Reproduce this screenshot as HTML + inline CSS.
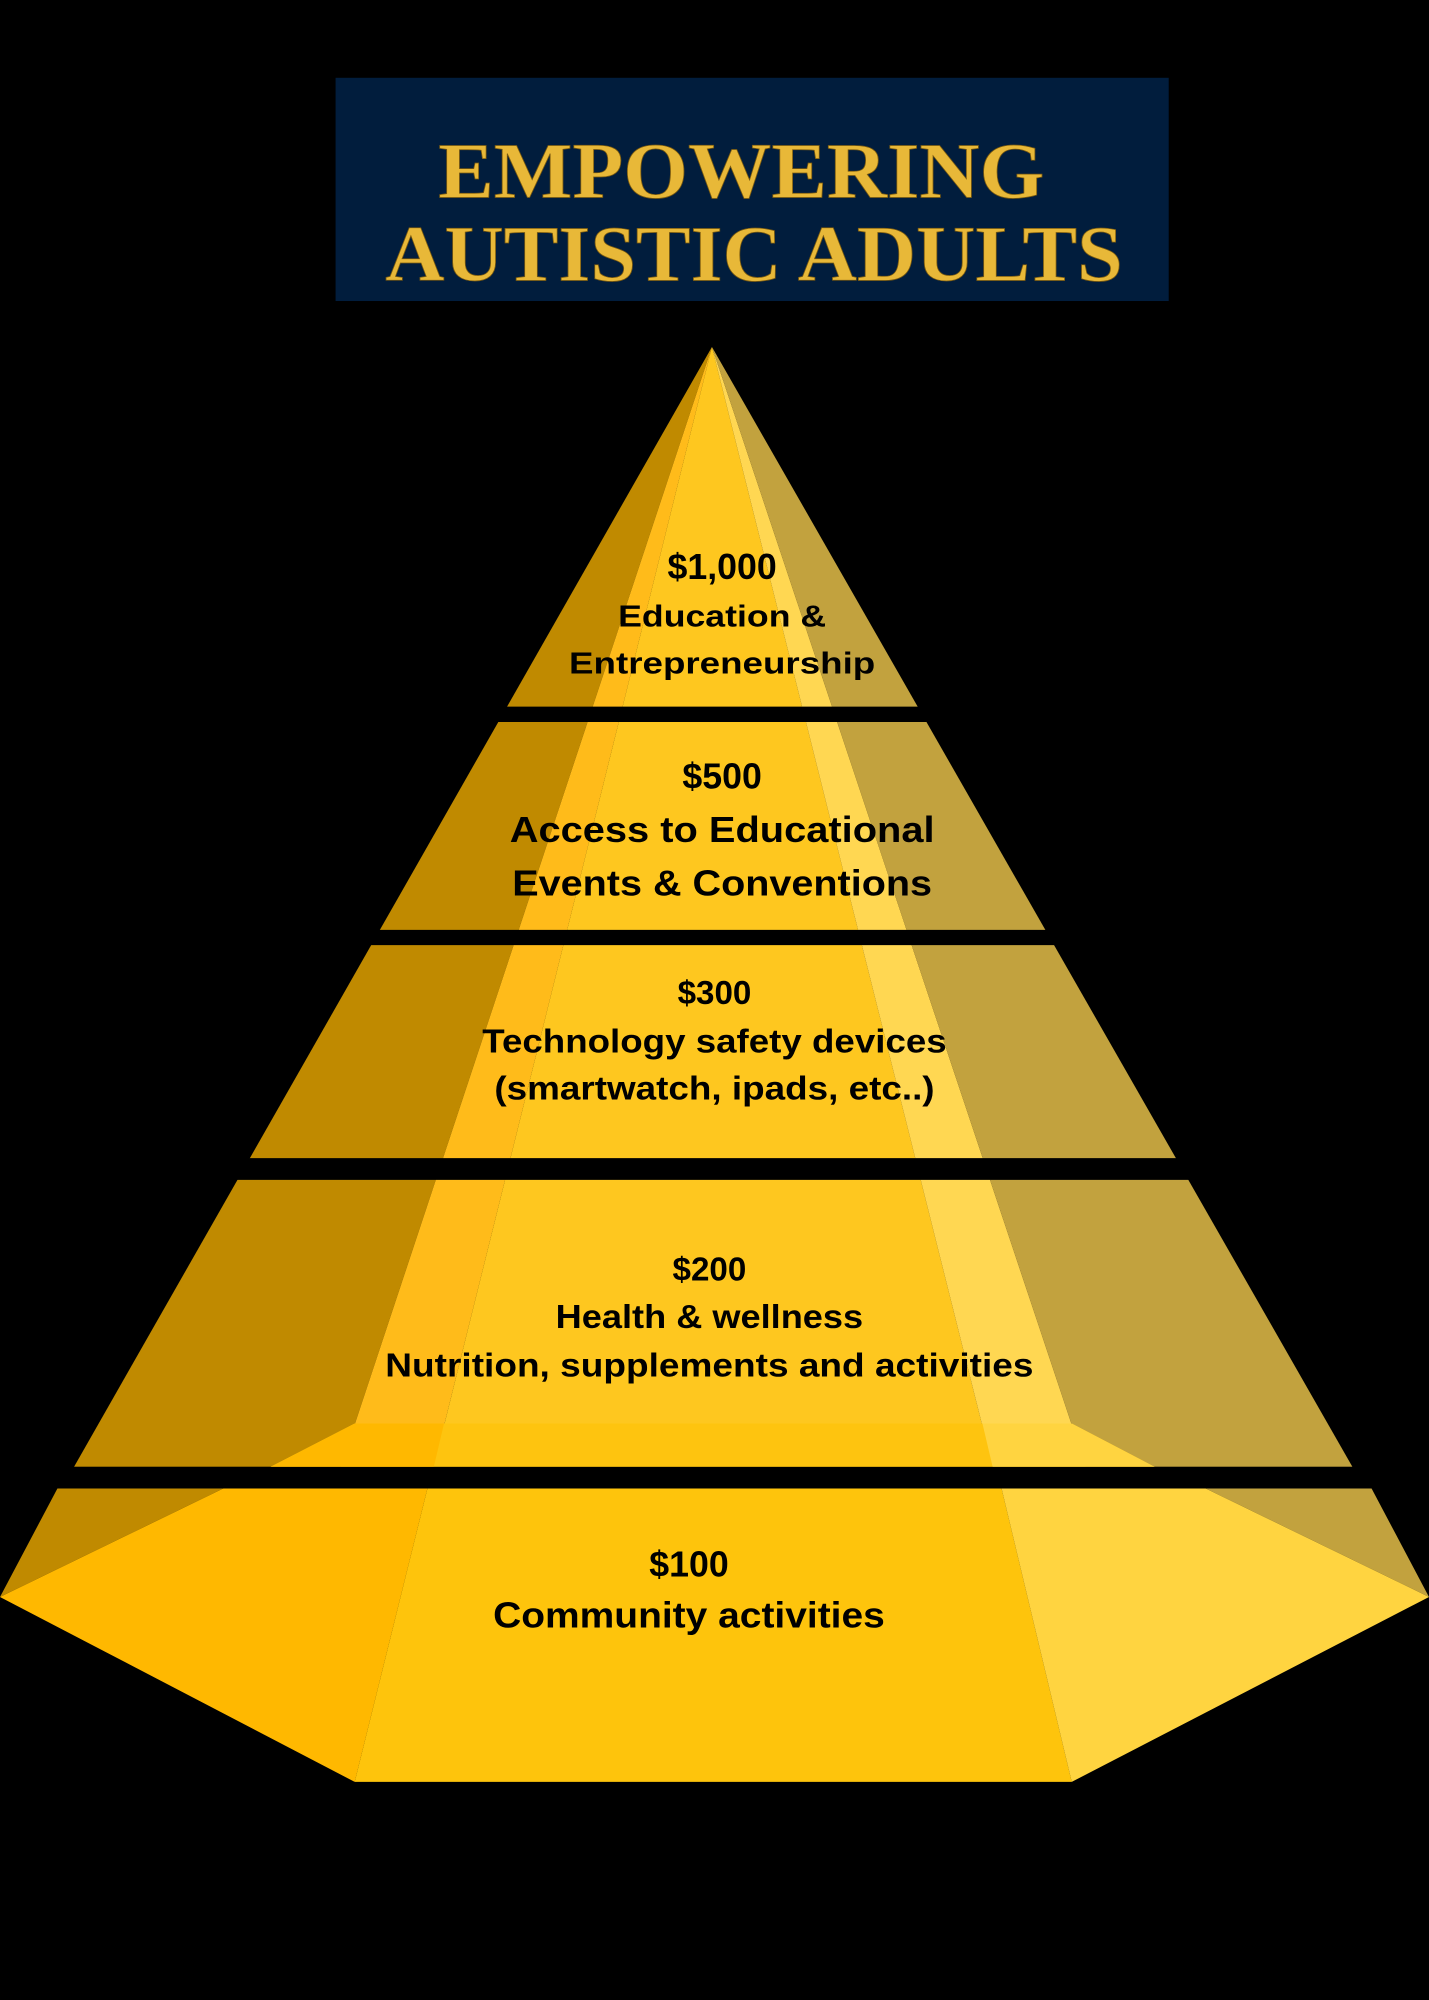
<!DOCTYPE html>
<html><head><meta charset="utf-8"><style>html,body{margin:0;padding:0;background:#000}svg{display:block}</style></head>
<body>
<svg width="1429" height="2000" viewBox="0 0 1120 1568" preserveAspectRatio="none" xmlns="http://www.w3.org/2000/svg">
<rect width="1120" height="1568" fill="#000"/>
<rect x="263" y="61" width="653" height="175" fill="#011d3d"/>
<g font-family="Liberation Serif, serif" font-weight="bold" fill="#e8b838" stroke="#7a5a10" stroke-width="0.6" text-anchor="middle">
<text x="581" y="155" font-size="62" textLength="475" lengthAdjust="spacingAndGlyphs">EMPOWERING</text>
<text x="591" y="220" font-size="62" textLength="578" lengthAdjust="spacingAndGlyphs">AUTISTIC ADULTS</text>
</g>
<defs>
<clipPath id="tiers">
<rect x="0" y="272" width="1120" height="282"/>
<rect x="0" y="566" width="1120" height="163"/>
<rect x="0" y="741" width="1120" height="167"/>
<rect x="0" y="925" width="1120" height="225"/>
</clipPath>
</defs>
<g clip-path="url(#tiers)">
<polygon points="558,272 58,1150 267,1150" fill="#c08a00"/>
<polygon points="558,272 267,1150 340,1150" fill="#ffbb1a"/>
<polygon points="558,272 340,1150 778,1150" fill="#fec71f"/>
<polygon points="558,272 778,1150 851,1150" fill="#ffd752"/>
<polygon points="558,272 851,1150 1060,1150" fill="#c2a23e"/>
<polygon points="278,1116 840,1116 905,1150 212,1150" fill="#fec40f"/>
<polygon points="278,1116 348,1116 340,1150 212,1150" fill="#ffb800"/>
<polygon points="770,1116 840,1116 905,1150 778,1150" fill="#ffd440"/>
</g>
<polygon points="45,1167 175,1167 0,1252" fill="#c08a00"/>
<polygon points="945,1167 1075,1167 1120,1252" fill="#c2a23e"/>
<polygon points="0,1252 175,1167 335,1167 278,1397" fill="#ffb800"/>
<polygon points="335,1167 785,1167 840,1397 278,1397" fill="#fec40c"/>
<polygon points="785,1167 945,1167 1120,1252 840,1397" fill="#ffd440"/>
<g font-family="Liberation Sans, sans-serif" font-weight="bold" fill="#000" text-anchor="middle">
<text x="566" y="454" font-size="28">$1,000</text>
<text x="566" y="491" font-size="24" textLength="163" lengthAdjust="spacingAndGlyphs">Education &amp;</text>
<text x="566" y="528" font-size="24" textLength="240" lengthAdjust="spacingAndGlyphs">Entrepreneurship</text>
<text x="566" y="618" font-size="28">$500</text>
<text x="566" y="660" font-size="28" textLength="333" lengthAdjust="spacingAndGlyphs">Access to Educational</text>
<text x="566" y="702" font-size="28" textLength="329" lengthAdjust="spacingAndGlyphs">Events &amp; Conventions</text>
<text x="560" y="787" font-size="26">$300</text>
<text x="560" y="825" font-size="26" textLength="364" lengthAdjust="spacingAndGlyphs">Technology safety devices</text>
<text x="560" y="862" font-size="26" textLength="345" lengthAdjust="spacingAndGlyphs">(smartwatch, ipads, etc..)</text>
<text x="556" y="1004" font-size="26">$200</text>
<text x="556" y="1041" font-size="26" textLength="241" lengthAdjust="spacingAndGlyphs">Health &amp; wellness</text>
<text x="556" y="1079" font-size="26" textLength="508" lengthAdjust="spacingAndGlyphs">Nutrition, supplements and activities</text>
<text x="540" y="1236" font-size="28">$100</text>
<text x="540" y="1276" font-size="28" textLength="307" lengthAdjust="spacingAndGlyphs">Community activities</text>
</g>
</svg>
</body></html>
